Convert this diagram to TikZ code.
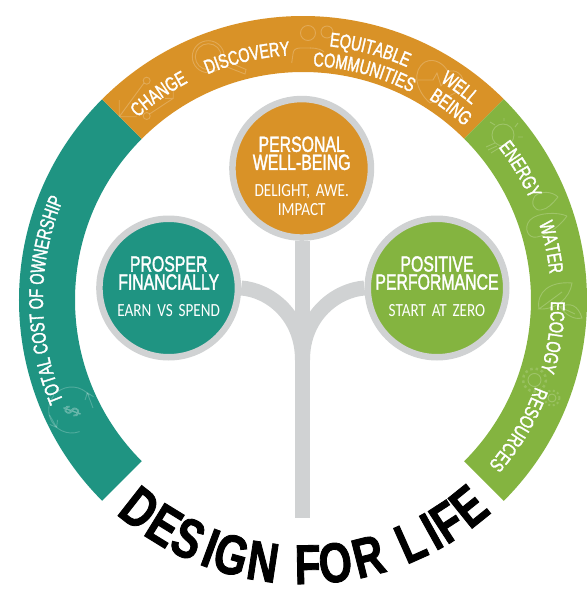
\documentclass[tikz,border=0pt]{standalone}
\usepackage{fontspec}
\usepackage{xcolor}
\usepackage{tikz}
\usetikzlibrary{decorations.text}
\usetikzlibrary{arrows.meta}
\usetikzlibrary{positioning, calc}
\newfontfamily\condfam[FakeStretch=0.72,FakeBold=1.6]{Liberation Sans}
\newfontfamily\ringfam[FakeStretch=0.72,FakeBold=1.6]{Liberation Sans}
\newfontfamily\thinfam[FakeStretch=0.82,WordSpace=1.7]{Carlito}
\newfontfamily\lifefam[FakeStretch=0.76,FakeBold=1.5]{Liberation Sans Bold}
\newcommand{\headf}{\fontsize{22}{18}\selectfont\condfam}
\newcommand{\subf}{\fontsize{18.5}{19}\selectfont\thinfam}
\newcommand{\ringf}{\fontsize{20}{20}\selectfont\ringfam}
\newcommand{\lifef}{\fontsize{56}{60}\selectfont\lifefam}
\definecolor{tealband}{HTML}{1F9482}
\definecolor{amberband}{HTML}{D99227}
\definecolor{greenband}{HTML}{84B440}
\definecolor{stemgray}{HTML}{D0D2D3}
\tikzset{
  bud/.style={circle,draw=stemgray,line width=6.5pt,minimum size=138.5pt,inner sep=0pt},
  limb/.style={draw=stemgray,line width=15pt},
  head/.style={font=\headf,text=white,align=center,inner sep=0pt},
  sub/.style={font=\subf,text=white,align=center,inner sep=0pt},
  ghost/.style={draw=white,draw opacity=0.22,line width=0.9pt},
  lifeletter/.style={font=\lifef,text=black,anchor=base,inner sep=0pt}
}
% start angle, end angle, radius
\newcommand{\ringword}[4]{\path[decorate,decoration={text along path,text={|\ringf\color{white}|#1},text align=center}] (#2:#4) arc[start angle=#2,end angle=#3,radius=#4];}
\begin{document}
\begin{tikzpicture}[x=1pt,y=1pt]
\useasboundingbox (-303,-298) rectangle (285,300);
% the ring
\foreach \from/\to/\col in {225/135/tealband,135/45/amberband,45/-45/greenband}
\fill[\col] (\from:228) arc[start angle=\from,end angle=\to,radius=228] -- (\to:284) arc[start angle=\to,end angle=\from,radius=284] -- cycle;
% faint icons, pixel coordinates of the ring
\begin{scope}[shift={(-303,300)},y=-1pt,ghost]
\draw (119.3,100) -- (119.3,116.7) -- (136.7,116.7) (119.3,116.7) -- (144,83);
\draw (146.7,80.7) circle (3.5);
\draw (173.3,90) -- (173.3,98.3) -- (165,98.3) (173.3,98.3) -- (149.5,114);
\draw (146.7,116) circle (3.5);
\draw (208.3,56.7) circle (16) (208.3,56.7) circle (13);
\draw (222,65) -- (245,74) -- (246,69.5) -- (224,60);
\draw (308,33) circle (7.5) (327,32) circle (6);
\draw (291.7,63) -- (293,54) .. controls (293,50) and (296,48) .. (300,48) -- (311,48);
\draw (310,48) .. controls (318,48) and (322,50) .. (324,52);
\draw (430,103) .. controls (415,90) and (412,70) .. (425,62) .. controls (435,57) and (445,65) .. (448,72) .. controls (455,68) and (465,75) .. (463,85) .. controls (460,93) and (445,98) .. (430,103);
\draw (418,80) -- (433,80) -- (437,73) -- (441,86) -- (446,80);
\draw (503,135) circle (11);
\draw (495,143) -- (486,147) (497,146) -- (488,150) (499,148) -- (491,153);
\draw (490,122) -- (495,125) (518,123) -- (515,127) (523,137) -- (518,137) (504,118) -- (504,121);
\draw (558,197) .. controls (552,191) and (540,191) .. (535,196) .. controls (530,203) and (534,211) .. (541,210) .. controls (548,209) and (553,203) .. (558,197);
\draw (567,216) .. controls (558,212) and (538,212) .. (530,220) .. controls (523,228) and (528,239) .. (537,237) .. controls (548,235) and (560,226) .. (567,216);
\draw (539,309) .. controls (536,292) and (550,281) .. (572,283) .. controls (570,298) and (556,310) .. (539,309) -- (562,292);
\draw (560,307) .. controls (570,302) and (578,305) .. (582,318) .. controls (574,320) and (566,315) .. (560,307) -- (575,314);
\draw (534.5,380) circle (6.5) (552,398) circle (4);
\draw[draw opacity=0.16,line width=2.5pt,dash pattern=on 2.5pt off 3pt] (534.5,380) circle (11.5);
\draw[draw opacity=0.16,line width=2pt,dash pattern=on 2pt off 2.5pt] (552,398) circle (7.5);
\draw (71.7,410) ++(-40:23) arc[start angle=-40,end angle=-130,radius=23];
\draw (71.7,410) ++(70:23) arc[start angle=70,end angle=220,radius=23];
\draw[-{Straight Barb[length=6pt,width=9pt]}] (93,408) -- (87,392);
\draw[-{Straight Barb[length=6pt,width=9pt]}] (49.5,415) -- (57,428);
\node[text=white,opacity=0.25,font=\fontsize{22}{22}\selectfont\condfam,rotate=70,inner sep=0pt] (dollar) at (72,411) {\$};
\end{scope}
% ring labels
\ringword{TOTAL COST OF OWNERSHIP}{207}{153}{260}
\ringword{CHANGE}{145}{105}{246}
\ringword{DISCOVERY}{125}{81}{245}
\ringword{EQUITABLE}{97}{53}{255}
\ringword{COMMUNITIES}{100}{50}{234}
\ringword{WELL}{70}{37}{258}
\ringword{BEING}{72}{33}{237}
\ringword{ENERGY}{50}{12}{248}
\ringword{WATER}{30}{-6}{248}
\ringword{ECOLOGY}{10}{-27}{248}
\ringword{RESOURCES}{-10}{-52}{248}
% design for life along the bottom
\foreach \ch/\ang [count=\i] in {D/231.9,E/238.4,S/244.3,I/249.6,G/254.3,N/261.3,F/271,O/277,R/284.3,L/294,I/299,F/303,E/308.8}
\node[lifeletter,rotate=\ang-270] (life\i) at (\ang:284) {\ch};
% stem and branches
\coordinate (fork) at (-0.5,-60);
\coordinate (root) at (-0.5,-217.7);
\node[bud,fill=amberband] (personal) at (-1.3,131.7) {};
\node[bud,fill=tealband] (prosper) at (-134.3,12) {};
\node[bud,fill=greenband] (performance) at (134,12) {};
\draw[limb] (personal.south -| fork) -- (root);
\draw[limb] (prosper.east) .. controls +(28,-2) and ($(fork)+(0,45)$) .. (fork);
\draw[limb] (performance.west) .. controls +(-28,-2) and ($(fork)+(0,45)$) .. (fork);
% circle texts
\node[head,yshift=15pt] (personalhead) at (personal) {PERSONAL\\WELL-BEING};
\node[sub,yshift=-32pt] (personalsub) at (personal) {DELIGHT, AWE.\\IMPACT};
\node[head,yshift=15pt] (prosperhead) at (prosper) {PROSPER\\FINANCIALLY};
\node[sub,yshift=-23pt] (prospersub) at (prosper) {EARN VS SPEND};
\node[head,yshift=15pt] (performancehead) at (performance) {POSITIVE\\PERFORMANCE};
\node[sub,yshift=-23pt] (performancesub) at (performance) {START AT ZERO};
\end{tikzpicture}
\end{document}
